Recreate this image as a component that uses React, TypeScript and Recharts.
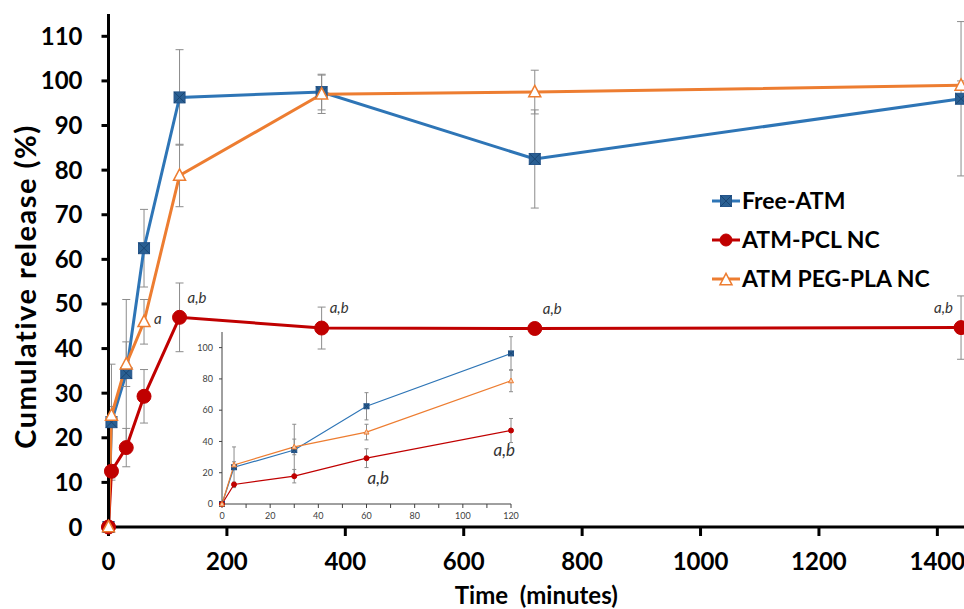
import React from 'react';
import { LineChart, Line, XAxis, YAxis, ErrorBar, LabelList } from 'recharts';

// ── Data ──────────────────────────────────────────────────────────────────────

const TIMES = [0, 5, 30, 60, 120, 360, 720, 1440];

const FREE_ATM = [0, 23.5, 34.5, 62.5, 96.3, 97.5, 82.5, 96];
const FREE_ATM_SD = [0, 13, 16.5, 8.7, 10.7, 4, 11, 17.3];

const PCL_NC = [0, 12.5, 17.8, 29.3, 47, 44.6, 44.5, 44.7];
const PCL_NC_SD = [0, 1.5, 4.3, 6, 7.7, 4.7, 0.5, 7.1];

const PEG_PLA_NC = [0, 25, 36.5, 46, 78.8, 97, 97.5, 99];
const PEG_PLA_NC_SD = [0, 2, 5, 5, 7, 4.3, 4.9, 1];

const PCL_NOTES = ['', '', '', '', 'a,b', 'a,b', 'a,b', 'a,b'];
const PEG_PLA_NOTES = ['', '', '', 'a', '', '', '', ''];
const INSET_PCL_NOTES = ['', '', '', 'a,b', 'a,b'];

const SERIES_NAMES = ['Free-ATM', 'ATM-PCL NC', 'ATM PEG-PLA NC'];

const X_TICKS = [0, 200, 400, 600, 800, 1000, 1200, 1400];
const Y_TICKS = [0, 10, 20, 30, 40, 50, 60, 70, 80, 90, 100, 110];
const INSET_X_TICKS = [0, 10, 20, 30, 40, 50, 60, 70, 80, 90, 100, 110, 120];
const INSET_Y_TICKS = [0, 20, 40, 60, 80, 100];
const INSET_MAX_T = 120;

// ── Styling ───────────────────────────────────────────────────────────────────

const FONT = 'Lato, "Open Sans", sans-serif';
const BLUE = '#2E75B6';
const RED = '#C00000';
const ORANGE = '#ED7D31';
const ERR = '#8C8C8C';

const mainData = TIMES.map((t, i) => ({
  t,
  free: FREE_ATM[i],
  freeSd: FREE_ATM_SD[i],
  pcl: PCL_NC[i],
  pclSd: PCL_NC_SD[i],
  pclNote: PCL_NOTES[i],
  peg: PEG_PLA_NC[i],
  pegSd: PEG_PLA_NC_SD[i],
  pegNote: PEG_PLA_NOTES[i],
}));

const insetData = mainData
  .filter((d) => d.t <= INSET_MAX_T)
  .map((d, i) => ({ ...d, insetNote: INSET_PCL_NOTES[i] }));

// ── Markers ───────────────────────────────────────────────────────────────────

function SquareX({ cx, cy, s }: { cx?: number; cy?: number; s: number }) {
  if (cx == null || cy == null) return null;
  const h = s / 2;
  return (
    <g>
      <rect x={cx - h} y={cy - h} width={s} height={s} fill="#2A5F92" stroke="#24548A" strokeWidth={1} />
      <path
        d={`M${cx - h},${cy - h}L${cx + h},${cy + h}M${cx + h},${cy - h}L${cx - h},${cy + h}`}
        stroke="#1A4673"
        strokeWidth={1}
      />
    </g>
  );
}

function Tri({ cx, cy, s, fill, sw }: { cx?: number; cy?: number; s: number; fill: string; sw: number }) {
  if (cx == null || cy == null) return null;
  const h = s / 2;
  return (
    <path
      d={`M${cx},${cy - h * 1.1}L${cx + h},${cy + h * 0.8}L${cx - h},${cy + h * 0.8}Z`}
      fill={fill}
      stroke={ORANGE}
      strokeWidth={sw}
    />
  );
}

function Dot({ cx, cy, r }: { cx?: number; cy?: number; r: number }) {
  if (cx == null || cy == null) return null;
  return <circle cx={cx} cy={cy} r={r} fill={RED} stroke={RED} strokeWidth={1} />;
}

// ── Annotation renderers ─────────────────────────────────────────────────────

function pointOf(props: any) {
  const vb = props.viewBox || {};
  return { px: props.x ?? vb.x, py: props.y ?? vb.y };
}

function mainPclNote(props: any) {
  const { value, index } = props;
  if (!value) return null;
  const { px, py } = pointOf(props);
  const last = index === TIMES.length - 1;
  return (
    <text
      x={last ? px - 8 : px + 8}
      y={py - 20}
      dy="0.35em"
      textAnchor={last ? 'end' : 'start'}
      fontFamily={FONT}
      fontStyle="italic"
      fontSize={15}
      fill="#333"
    >
      {value}
    </text>
  );
}

function mainPegNote(props: any) {
  const { value } = props;
  if (!value) return null;
  const { px, py } = pointOf(props);
  return (
    <text x={px + 10} y={py - 3} dy="0.35em" fontFamily={FONT} fontStyle="italic" fontSize={15} fill="#333">
      {value}
    </text>
  );
}

function insetPclNote(props: any) {
  const { value, index } = props;
  if (!value) return null;
  const { px, py } = pointOf(props);
  const last = index === insetData.length - 1;
  return (
    <text
      x={last ? px + 4 : px + 1}
      y={py + 20}
      dy="0.35em"
      textAnchor={last ? 'end' : 'start'}
      fontFamily={FONT}
      fontStyle="italic"
      fontSize={17}
      fill="#333"
    >
      {value}
    </text>
  );
}

// ── Axis labels ──────────────────────────────────────────────────────────────

function YTitle(props: any) {
  const vb = props.viewBox || { x: 0, y: 14, width: 108, height: 513 };
  const x = vb.x + 24;
  const y = vb.y + vb.height / 2 + 16;
  return (
    <text
      x={x}
      y={y}
      transform={`rotate(-90, ${x}, ${y})`}
      textAnchor="middle"
      dominantBaseline="central"
      fontFamily={FONT}
      fontWeight={700}
      fontSize={29}
      letterSpacing={1.5}
      fill="#000"
    >
      Cumulative release (%)
    </text>
  );
}

function XTitle(props: any) {
  const vb = props.viewBox || { x: 108, y: 527, width: 856, height: 82 };
  return (
    <text
      x={vb.x + vb.width / 2}
      y={604}
      textAnchor="middle"
      fontFamily={FONT}
      fontWeight={700}
      fontSize={24}
      fill="#000"
      style={{ whiteSpace: 'pre' }}
    >
      {'Time  (minutes)'}
    </text>
  );
}

// ── Legend ────────────────────────────────────────────────────────────────────

function LegendRow({ idx }: { idx: number }) {
  const colour = [BLUE, RED, ORANGE][idx];
  return (
    <div style={{ display: 'flex', alignItems: 'center', height: 39 }}>
      <svg width={30} height={20} style={{ display: 'block' }}>
        <line x1={0} y1={10} x2={28} y2={10} stroke={colour} strokeWidth={3} />
        {idx === 0 && <SquareX cx={14} cy={10} s={11} />}
        {idx === 1 && <Dot cx={14} cy={10} r={6} />}
        {idx === 2 && <Tri cx={14} cy={11} s={12} fill="#fff" sw={1.5} />}
      </svg>
      <span style={{ fontFamily: FONT, fontWeight: 700, fontSize: 23, color: '#000', lineHeight: 1 }}>
        {SERIES_NAMES[idx]}
      </span>
    </div>
  );
}

// ── Main component ───────────────────────────────────────────────────────────

export default function App() {
  const tickStyle = { fill: '#000', fontSize: 24, fontWeight: 700, fontFamily: FONT };
  const insetTick = { fill: '#404040', fontSize: 9, fontFamily: FONT };

  return (
    <div style={{ position: 'absolute', left: 0, top: 0, width: 964, height: 609, background: '#fff', overflow: 'hidden' }}>
      <LineChart width={964} height={609} data={mainData} margin={{ top: 14, right: 0, bottom: 0, left: 0 }}>
        <XAxis
          type="number"
          dataKey="t"
          domain={[0, 1445]}
          ticks={X_TICKS}
          height={82}
          axisLine={{ stroke: '#000', strokeWidth: 3 }}
          tickLine={{ stroke: '#000', strokeWidth: 3 }}
          tickSize={9}
          tickMargin={17}
          tick={tickStyle}
          label={<XTitle />}
        />
        <YAxis
          type="number"
          domain={[0, 115]}
          ticks={Y_TICKS}
          width={108.5}
          axisLine={{ stroke: '#000', strokeWidth: 3 }}
          tickLine={{ stroke: '#000', strokeWidth: 3 }}
          tickSize={7}
          tickMargin={19}
          tick={tickStyle}
          label={<YTitle />}
        />

        <Line
          dataKey="free"
          stroke={BLUE}
          strokeWidth={3}
          isAnimationActive={false}
          dot={(p: any) => <SquareX key={`f${p.index}`} cx={p.cx} cy={p.cy} s={11} />}
          activeDot={false}
        >
          <ErrorBar dataKey="freeSd" direction="y" width={4} stroke={ERR} strokeWidth={1} />
        </Line>
        <Line
          dataKey="pcl"
          stroke={RED}
          strokeWidth={3}
          isAnimationActive={false}
          dot={(p: any) => <Dot key={`p${p.index}`} cx={p.cx} cy={p.cy} r={7} />}
          activeDot={false}
        >
          <ErrorBar dataKey="pclSd" direction="y" width={4} stroke={ERR} strokeWidth={1} />
          <LabelList dataKey="pclNote" content={mainPclNote} />
        </Line>
        <Line
          dataKey="peg"
          stroke={ORANGE}
          strokeWidth={3}
          isAnimationActive={false}
          dot={(p: any) => <Tri key={`g${p.index}`} cx={p.cx} cy={p.cy} s={12} fill="#fff" sw={1.5} />}
          activeDot={false}
        >
          <ErrorBar dataKey="pegSd" direction="y" width={4} stroke={ERR} strokeWidth={1} />
          <LabelList dataKey="pegNote" content={mainPegNote} />
        </Line>
      </LineChart>

      {/* Inset: first 120 minutes */}
      <div style={{ position: 'absolute', left: 170, top: 320 }}>
        <LineChart width={360} height={215} data={insetData} margin={{ top: 12, right: 19, bottom: 0, left: 0 }}>
          <XAxis
            type="number"
            dataKey="t"
            domain={[0, INSET_MAX_T]}
            ticks={INSET_X_TICKS}
            tickFormatter={(v: number) => (v % 20 === 0 ? String(v) : '')}
            height={31}
            axisLine={{ stroke: '#404040', strokeWidth: 1 }}
            tickLine={{ stroke: '#404040', strokeWidth: 1 }}
            tickSize={4}
            tickMargin={5}
            tick={insetTick}
          />
          <YAxis
            type="number"
            domain={[0, 110]}
            ticks={INSET_Y_TICKS}
            width={52}
            axisLine={{ stroke: '#404040', strokeWidth: 1 }}
            tickLine={{ stroke: '#404040', strokeWidth: 1 }}
            tickSize={3}
            tickMargin={6}
            tick={insetTick}
          />
          <Line
            dataKey="free"
            stroke={BLUE}
            strokeWidth={1.2}
            isAnimationActive={false}
            dot={(p: any) => <SquareX key={`if${p.index}`} cx={p.cx} cy={p.cy} s={5} />}
            activeDot={false}
          >
            <ErrorBar dataKey="freeSd" direction="y" width={2} stroke={ERR} strokeWidth={1} />
          </Line>
          <Line
            dataKey="pcl"
            stroke={RED}
            strokeWidth={1.2}
            isAnimationActive={false}
            dot={(p: any) => <Dot key={`ip${p.index}`} cx={p.cx} cy={p.cy} r={2.5} />}
            activeDot={false}
          >
            <ErrorBar dataKey="pclSd" direction="y" width={2} stroke={ERR} strokeWidth={1} />
            <LabelList dataKey="insetNote" content={insetPclNote} />
          </Line>
          <Line
            dataKey="peg"
            stroke={ORANGE}
            strokeWidth={1.2}
            isAnimationActive={false}
            dot={(p: any) => <Tri key={`ig${p.index}`} cx={p.cx} cy={p.cy} s={5} fill="#F8CBAD" sw={1} />}
            activeDot={false}
          >
            <ErrorBar dataKey="pegSd" direction="y" width={2} stroke={ERR} strokeWidth={1} />
          </Line>
        </LineChart>
      </div>

      {/* Legend */}
      <div style={{ position: 'absolute', left: 712, top: 181 }}>
        {SERIES_NAMES.map((_, i) => (
          <LegendRow key={i} idx={i} />
        ))}
      </div>
    </div>
  );
}
